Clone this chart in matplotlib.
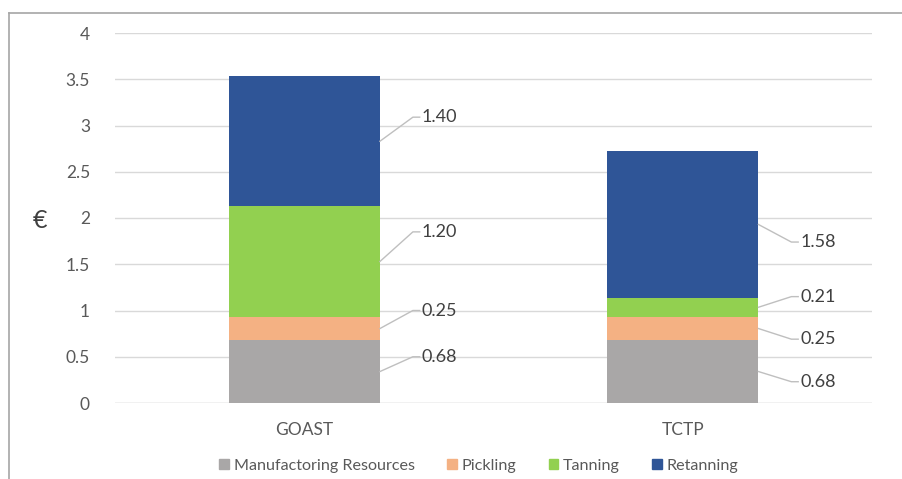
import matplotlib.pyplot as plt
from matplotlib.lines import Line2D
import numpy as np

plt.rcParams['font.family'] = ['Lato', 'DejaVu Sans']

categories = ['GOAST', 'TCTP']
series = ['Manufactoring Resources', 'Pickling', 'Tanning', 'Retanning']
values = {
    'Manufactoring Resources': [0.68, 0.68],
    'Pickling': [0.25, 0.25],
    'Tanning': [1.20, 0.21],
    'Retanning': [1.40, 1.58],
}
colors = ['#A9A7A7', '#F4B183', '#92D050', '#2F5597']

# label anchor heights (data units) for the leader lines
label_y = {
    'GOAST': [0.50, 1.00, 1.85, 3.09],
    'TCTP': [0.23, 0.69, 1.15, 1.74],
}

fig = plt.figure(figsize=(9.03, 4.79), dpi=100)
ax = fig.add_axes([115 / 903, 1 - 403 / 479, 757 / 903, 370 / 479])

x = np.arange(len(categories))
width = 0.40
bottom = np.zeros(len(categories))
mids = []
for name, col in zip(series, colors):
    v = np.array(values[name])
    ax.bar(x, v, width, bottom=bottom, color=col, label=name, zorder=3)
    mids.append(bottom + v / 2)
    bottom = bottom + v

# leader lines and value labels
for i, cat in enumerate(categories):
    xr = x[i] + width / 2
    for j, name in enumerate(series):
        y0 = mids[j][i]
        y1 = label_y[cat][j]
        ax.plot([xr, xr + 0.087, xr + 0.105], [y0, y1, y1], color='#BFBFBF',
                lw=1.0, zorder=4, clip_on=False)
        ax.text(xr + 0.11, y1, f'{values[name][i]:.2f}', va='center', ha='left',
                fontsize=13, color='#404040', zorder=5)

ax.set_xlim(-0.5, 1.5)
ax.set_ylim(0, 4)
ax.set_yticks([0, 0.5, 1, 1.5, 2, 2.5, 3, 3.5, 4])
ax.set_yticklabels(['0', '0.5', '1', '1.5', '2', '2.5', '3', '3.5', '4'])
ax.set_xticks(x)
ax.set_xticklabels(categories)
ax.tick_params(axis='both', length=0, labelsize=12.5, labelcolor='#595959')
ax.tick_params(axis='y', pad=18)
ax.tick_params(axis='x', pad=14)
ax.grid(axis='y', color='#D9D9D9', lw=1, zorder=0)
for s in ax.spines.values():
    s.set_visible(False)
ax.axhline(0, color='#D9D9D9', lw=1, zorder=2)

fig.text(40 / 903, 1 - 220 / 479, '€', fontsize=18, color='#404040',
         ha='center', va='center')

handles = [plt.Rectangle((0, 0), 1, 1, color=c) for c in colors]
fig.legend(handles, series, loc='center', bbox_to_anchor=(479 / 903, 1 - 466 / 479),
           ncol=4, frameon=False, fontsize=11.6, handlelength=0.6, handleheight=0.6,
           handletextpad=0.3, columnspacing=2.0, labelcolor='#595959')

# chart area border (left and top edges)
fig.add_artist(Line2D([9 / 903, 9 / 903], [0, 1 - 13 / 479], color='#A6A6A6', lw=1.2,
                      transform=fig.transFigure))
fig.add_artist(Line2D([9 / 903, 1], [1 - 13 / 479, 1 - 13 / 479], color='#A6A6A6', lw=1.2,
                      transform=fig.transFigure))

fig.savefig('out.png', dpi=100)
